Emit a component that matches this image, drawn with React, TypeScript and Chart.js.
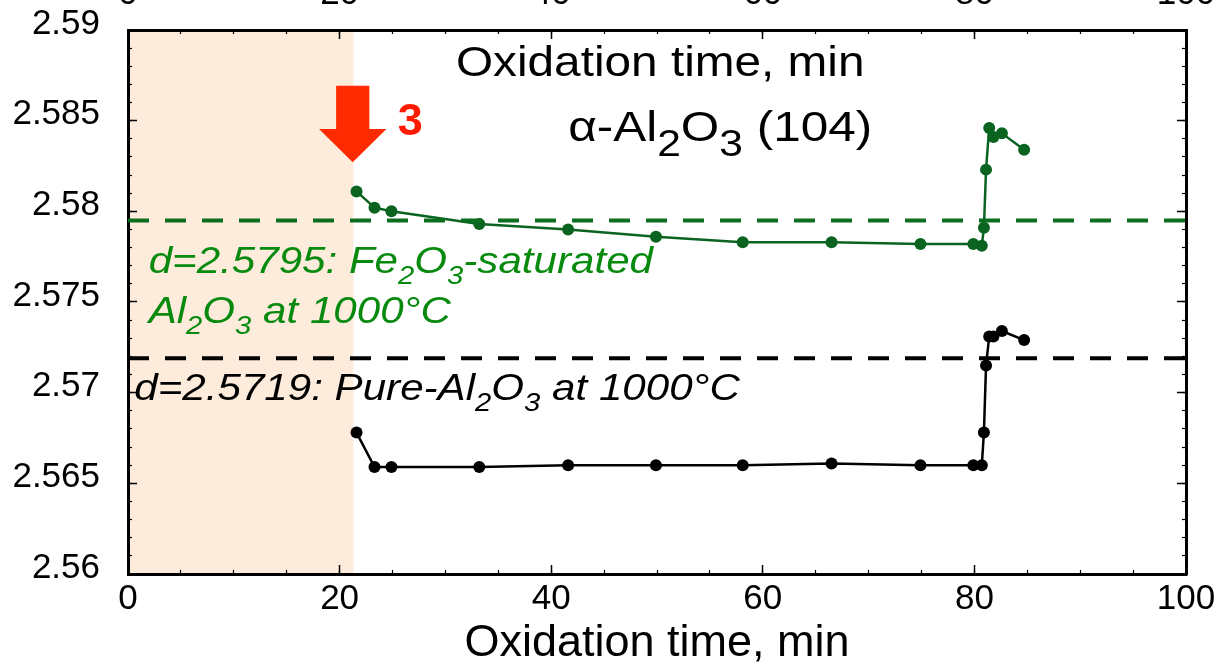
import React, { useEffect, useRef } from 'react';
import { Chart, registerables } from 'chart.js';

Chart.register(...registerables);

// ---- data ----
const oxidationTime = [21.6, 23.3, 24.9, 33.2, 41.6, 49.9, 58.1, 66.5, 74.9, 79.9, 80.7, 80.9, 81.1, 81.4, 81.8, 82.6, 84.7];
const dFeSaturated = [2.5811, 2.5802, 2.5800, 2.5793, 2.5790, 2.5786, 2.5783, 2.5783, 2.5782, 2.5782, 2.5781, 2.5791, 2.5823, 2.5846, 2.5841, 2.5843, 2.5834];
const dPure = [2.5678, 2.5659, 2.5659, 2.5659, 2.5660, 2.5660, 2.5660, 2.5661, 2.5660, 2.5660, 2.5660, 2.5678, 2.5715, 2.5731, 2.5731, 2.5734, 2.5729];
const refLevels = [2.5795, 2.5719];
const shadedRange = [0, 21.3];

const xTickValues = [0, 20, 40, 60, 80, 100];
const xTickLabels = ['0', '20', '40', '60', '80', '100'];
const yTickValues = [2.56, 2.565, 2.57, 2.575, 2.58, 2.585, 2.59];
const yTickLabels = ['2.56', '2.565', '2.57', '2.575', '2.58', '2.585', '2.59'];

const X_MIN = 0, X_MAX = 100, Y_MIN = 2.56, Y_MAX = 2.59;

const FONT = '"Liberation Sans", Arial, Helvetica, sans-serif';
const GREEN_LINE = '#0a6420';
const GREEN_DASH = '#0a6e1e';
const GREEN_TEXT = '#078a0e';
const SHADE = '#fdebdc';
const ARROW_RED = '#ff2a00';

type Seg = { t: string; sub?: boolean };
type TextNote = {
  segs: Seg[]; x: number; y: number; size: number; subSize?: number; subDrop?: number;
  stretch: number; color: string; style?: string; weight?: string;
};

const notes: TextNote[] = [
  { segs: [{ t: 'Oxidation time, min' }], x: 31.0, y: 2.58745, size: 43, stretch: 1.11, color: '#000' },
  { segs: [{ t: 'α-Al' }, { t: '2', sub: true }, { t: 'O' }, { t: '3', sub: true }, { t: ' (104)' }], x: 41.6, y: 2.58386, size: 43, subSize: 37, subDrop: 15, stretch: 1.15, color: '#000' },
  { segs: [{ t: '3' }], x: 25.5, y: 2.58419, size: 45, stretch: 1, color: '#ff1a00', weight: 'bold' },
  { segs: [{ t: 'd=2.5795: Fe' }, { t: '2', sub: true }, { t: 'O' }, { t: '3', sub: true }, { t: '-saturated' }], x: 1.95, y: 2.5766, size: 36, subSize: 25, subDrop: 11, stretch: 1.17, color: GREEN_TEXT, style: 'italic' },
  { segs: [{ t: 'Al' }, { t: '2', sub: true }, { t: 'O' }, { t: '3', sub: true }, { t: ' at 1000°C' }], x: 1.95, y: 2.57384, size: 36, subSize: 25, subDrop: 11, stretch: 1.17, color: GREEN_TEXT, style: 'italic' },
  { segs: [{ t: 'd=2.5719: Pure-Al' }, { t: '2', sub: true }, { t: 'O' }, { t: '3', sub: true }, { t: ' at 1000°C' }], x: 0.6, y: 2.56961, size: 36, subSize: 25, subDrop: 11, stretch: 1.17, color: '#000', style: 'italic' },
];

const arrowTip = { x: 21.24, y: 2.5827 };

function drawRich(ctx: CanvasRenderingContext2D, n: TextNote, px: number, py: number) {
  ctx.save();
  ctx.translate(px, py);
  ctx.scale(n.stretch, 1);
  ctx.fillStyle = n.color;
  ctx.textAlign = 'left';
  ctx.textBaseline = 'alphabetic';
  let cx = 0;
  for (const s of n.segs) {
    const size = s.sub ? (n.subSize || n.size) : n.size;
    ctx.font = `${n.style || 'normal'} ${n.weight || 'normal'} ${size}px ${FONT}`;
    ctx.fillText(s.t, cx, s.sub ? (n.subDrop || 0) : 0);
    cx += ctx.measureText(s.t).width;
  }
  ctx.restore();
}

const decorPlugin = {
  id: 'decor',
  beforeDraw(chart: any) {
    const { ctx, chartArea, scales } = chart;
    const x0 = scales.x.getPixelForValue(shadedRange[0]);
    const x1 = scales.x.getPixelForValue(shadedRange[1]);
    ctx.save();
    ctx.fillStyle = SHADE;
    ctx.fillRect(x0, chartArea.top, x1 - x0, chartArea.bottom - chartArea.top);
    ctx.restore();
  },
  afterDatasetsDraw(chart: any) {
    const { ctx, scales } = chart;
    for (const n of notes) {
      drawRich(ctx, n, scales.x.getPixelForValue(n.x), scales.y.getPixelForValue(n.y));
    }
    // red down arrow
    const tx = scales.x.getPixelForValue(arrowTip.x);
    const ty = scales.y.getPixelForValue(arrowTip.y);
    ctx.save();
    ctx.fillStyle = ARROW_RED;
    ctx.beginPath();
    ctx.moveTo(tx - 16.6, ty - 76.7);
    ctx.lineTo(tx + 16.6, ty - 76.7);
    ctx.lineTo(tx + 16.6, ty - 33.4);
    ctx.lineTo(tx + 33.7, ty - 33.4);
    ctx.lineTo(tx, ty);
    ctx.lineTo(tx - 33.7, ty - 33.4);
    ctx.lineTo(tx - 16.6, ty - 33.4);
    ctx.closePath();
    ctx.fill();
    ctx.restore();
  },
};

const CANVAS_W = 1216;
const CANVAS_H = 706;
const SHIFT = 40;

function noPad(s: any) {
  s.paddingLeft = 0; s.paddingRight = 0; s.paddingTop = 0; s.paddingBottom = 0;
}

function majorX(position: 'top' | 'bottom', height: number, showTitle: boolean, padding: number) {
  return {
    type: 'linear', position, min: X_MIN, max: X_MAX, weight: 1,
    afterBuildTicks: (s: any) => { s.ticks = xTickValues.map((value) => ({ value })); },
    afterFit: (s: any) => { s.height = height; noPad(s); },
    ticks: { callback: (_v: any, i: number) => xTickLabels[i], font: { size: 35, family: FONT }, color: '#000', padding, maxRotation: 0, minRotation: 0, autoSkip: false },
    grid: { drawOnChartArea: false, drawTicks: true, tickLength: -9, tickWidth: 1.5, tickColor: '#000' },
    border: { display: true, color: '#000', width: 3 },
    title: { display: showTitle, text: 'Oxidation time, min', color: '#000', font: { size: 45, family: FONT, lineHeight: 1 }, padding: { top: 0, bottom: 0 } },
  };
}
function minorX(position: 'top' | 'bottom') {
  return {
    type: 'linear', position, min: X_MIN, max: X_MAX, weight: 0,
    afterFit: (s: any) => { s.height = 0; noPad(s); },
    ticks: { display: false, stepSize: 5, autoSkip: false },
    grid: { drawOnChartArea: false, drawTicks: true, tickLength: -4, tickWidth: 1.2, tickColor: '#000' },
    border: { display: false },
  };
}
function majorY(position: 'left' | 'right', width: number, showLabels: boolean) {
  return {
    type: 'linear', position, min: Y_MIN, max: Y_MAX, weight: 1,
    afterBuildTicks: (s: any) => { s.ticks = yTickValues.map((value) => ({ value })); },
    afterFit: (s: any) => { s.width = width; noPad(s); },
    ticks: { display: showLabels, callback: (_v: any, i: number) => yTickLabels[i], font: { size: 35, family: FONT }, color: '#000', padding: 37, labelOffset: -6, autoSkip: false },
    grid: { drawOnChartArea: false, drawTicks: true, tickLength: -9, tickWidth: 1.5, tickColor: '#000' },
    border: { display: true, color: '#000', width: 3 },
  };
}
function minorY(position: 'left' | 'right') {
  return {
    type: 'linear', position, min: Y_MIN, max: Y_MAX, weight: 0,
    afterFit: (s: any) => { s.width = 0; noPad(s); },
    ticks: { display: false, stepSize: 0.001, autoSkip: false },
    grid: { drawOnChartArea: false, drawTicks: true, tickLength: -4, tickWidth: 1.2, tickColor: '#000' },
    border: { display: false },
  };
}

export default function App() {
  const ref = useRef<HTMLCanvasElement>(null);
  useEffect(() => {
    if (!ref.current) return;
    const series = (ys: number[]) => oxidationTime.map((t, i) => ({ x: t, y: ys[i] }));
    const level = (v: number) => [{ x: X_MIN, y: v }, { x: X_MAX, y: v }];
    const chart = new Chart(ref.current, {
      type: 'scatter',
      data: {
        datasets: [
          { label: 'Fe2O3-saturated level', data: level(refLevels[0]), showLine: true, borderColor: GREEN_DASH, borderWidth: 4, borderDash: [21, 16], pointRadius: 0, xAxisID: 'x', yAxisID: 'y' },
          { label: 'Pure Al2O3 level', data: level(refLevels[1]), showLine: true, borderColor: '#000', borderWidth: 4, borderDash: [21, 16], pointRadius: 0, xAxisID: 'x', yAxisID: 'y' },
          { label: 'Fe-doped', data: series(dFeSaturated), showLine: true, borderColor: GREEN_LINE, backgroundColor: GREEN_LINE, borderWidth: 2.5, pointRadius: 6, pointBorderWidth: 0, pointBackgroundColor: GREEN_LINE, xAxisID: 'x', yAxisID: 'y' },
          { label: 'Pure', data: series(dPure), showLine: true, borderColor: '#000', backgroundColor: '#000', borderWidth: 2.5, pointRadius: 6, pointBorderWidth: 0, pointBackgroundColor: '#000', xAxisID: 'x', yAxisID: 'y' },
        ],
      } as any,
      options: {
        responsive: false,
        animation: false,
        devicePixelRatio: 1,
        layout: { padding: 0, autoPadding: false },
        plugins: { legend: { display: false }, tooltip: { enabled: false } },
        scales: {
          x: majorX('bottom', CANVAS_H - (574 + SHIFT), true, 13),
          xMinor: minorX('bottom'),
          x2: majorX('top', 30 + SHIFT, false, 24),
          x2Minor: minorX('top'),
          y: majorY('left', 128, true),
          yMinor: minorY('left'),
          y2: majorY('right', CANVAS_W - 1186, false),
          y2Minor: minorY('right'),
        } as any,
      } as any,
      plugins: [decorPlugin as any],
    });
    return () => chart.destroy();
  }, []);
  return (
    <div style={{ position: 'absolute', left: 0, top: -SHIFT, width: CANVAS_W, height: CANVAS_H, background: '#fff' }}>
      <canvas ref={ref} width={CANVAS_W} height={CANVAS_H} style={{ display: 'block', width: CANVAS_W, height: CANVAS_H }} />
    </div>
  );
}
